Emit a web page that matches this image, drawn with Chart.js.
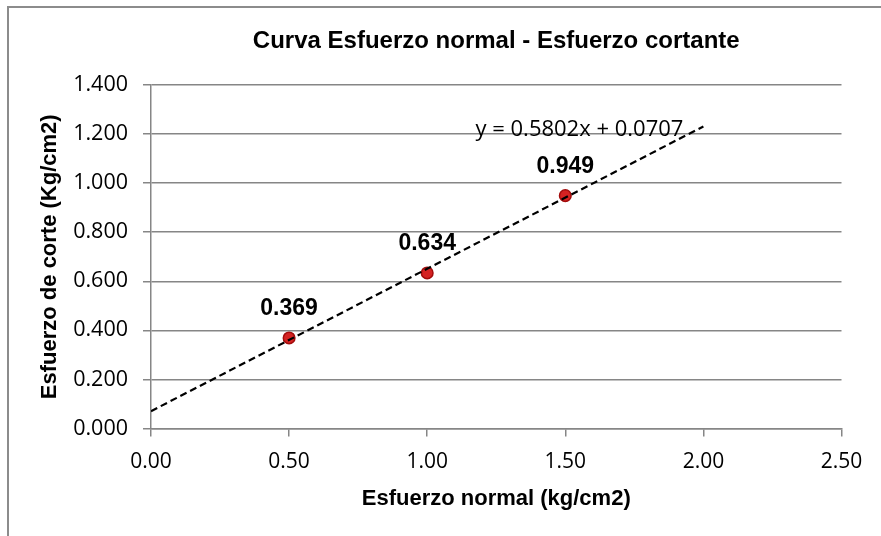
<!DOCTYPE html>
<html>
<head>
<meta charset="utf-8">
<script src="https://cdn.jsdelivr.net/npm/chart.js@4.4.1/dist/chart.umd.min.js"></script>
<style>
  body { margin: 0; background: #ffffff; }
  #wrap { width: 881px; height: 536px; position: relative; }
</style>
</head>
<body>
<div id="wrap"><canvas id="graphCanvas"></canvas></div>
<script>
// datos
var esfuerzoNormal = [0.5, 1.0, 1.5];
var esfuerzoCorte = [0.369, 0.634, 0.949];
var tendenciaX = [0.0, 2.0];
var tendenciaY = [0.0707, 1.2311];
var ecuacion = 'y = 0.5802x + 0.0707';
var xTicks = [0, 0.5, 1.0, 1.5, 2.0, 2.5];
var yTicks = [0, 0.2, 0.4, 0.6, 0.8, 1.0, 1.2, 1.4];

var gris = '#868686';

function toPoints(xs, ys) {
    var pts = [];
    for (var i in xs) {
        pts.push({ x: xs[i], y: ys[i] });
    }
    return pts;
}

// marco exterior del grafico
var marco = {
    id: 'marco',
    beforeDraw: function (chart) {
        var ctx = chart.ctx;
        ctx.save();
        ctx.fillStyle = '#ffffff';
        ctx.fillRect(0, 0, chart.width, chart.height);
        ctx.strokeStyle = '#8c8c8c';
        ctx.lineWidth = 2;
        ctx.strokeRect(8, 7, chart.width + 20, chart.height + 20);
        ctx.restore();
    }
};

// etiquetas de valores y ecuacion de la recta
var etiquetas = {
    id: 'etiquetas',
    afterDatasetsDraw: function (chart) {
        var ctx = chart.ctx;
        var meta = chart.getDatasetMeta(1);
        ctx.save();
        ctx.fillStyle = '#000000';
        ctx.font = 'bold 23px "Liberation Sans", Arial, sans-serif';
        ctx.textAlign = 'center';
        ctx.textBaseline = 'middle';
        meta.data.forEach(function (el, i) {
            ctx.fillText(esfuerzoCorte[i].toFixed(3), el.x, el.y - 29);
        });
        var xs = chart.scales.x, ys = chart.scales.y;
        ctx.font = '22px "Open Sans", sans-serif';
        ctx.textAlign = 'right';
        ctx.fillText(ecuacion, xs.getPixelForValue(tendenciaX[1]) - 20, ys.getPixelForValue(tendenciaY[1]) + 3);
        ctx.restore();
    }
};

var chartdata = {
    datasets: [{
        label: 'Lineal',
        data: toPoints(tendenciaX, tendenciaY),
        showLine: true,
        borderColor: '#000000',
        borderWidth: 2.2,
        borderDash: [7, 4],
        pointRadius: 0,
        fill: false
    }, {
        label: 'Esfuerzo de corte',
        data: toPoints(esfuerzoNormal, esfuerzoCorte),
        backgroundColor: '#d42222',
        borderColor: '#a30c0c',
        borderWidth: 1.5,
        pointStyle: 'circle',
        pointRadius: 5.8
    }]
};

var graphTarget = document.getElementById('graphCanvas');

var grafico = new Chart(graphTarget, {
    type: 'scatter',
    data: chartdata,
    plugins: [marco, etiquetas],
    options: {
        responsive: true,
        maintainAspectRatio: false,
        animation: false,
        layout: {
            padding: { left: 10, top: 0, right: 39.5, bottom: 0 }
        },
        plugins: {
            legend: { display: false },
            tooltip: { enabled: false },
            title: {
                display: true,
                fullSize: false,
                text: 'Curva Esfuerzo normal - Esfuerzo cortante',
                color: '#000000',
                font: { family: '"Liberation Sans", Arial, sans-serif', size: 24, weight: 'bold', lineHeight: 1.2 },
                padding: { top: 27.3, bottom: 28.9 }
            }
        },
        scales: {
            x: {
                type: 'linear',
                min: 0,
                max: 2.5,
                afterFit: function (scale) { scale.height = 107.5; },
                afterBuildTicks: function (scale) {
                    scale.ticks = xTicks.map(function (v) { return { value: v }; });
                },
                border: { display: true, color: gris, width: 1.5 },
                grid: { drawOnChartArea: false, drawTicks: true, tickLength: 8, color: gris, lineWidth: 1.5 },
                ticks: {
                    color: '#000000',
                    padding: 13,
                    maxRotation: 0,
                    font: { family: '"Open Sans", sans-serif', size: 21 },
                    callback: function (v) { return Number(v).toFixed(2); }
                },
                title: {
                    display: true,
                    text: 'Esfuerzo normal (kg/cm2)',
                    color: '#000000',
                    font: { family: '"Liberation Sans", Arial, sans-serif', size: 22, weight: 'bold', lineHeight: 1.2 },
                    padding: { top: 0, bottom: 23.8 }
                }
            },
            y: {
                type: 'linear',
                min: 0,
                max: 1.4,
                afterFit: function (scale) { scale.width = 141; },
                afterBuildTicks: function (scale) {
                    scale.ticks = yTicks.map(function (v) { return { value: v }; });
                },
                border: { display: true, color: gris, width: 1.5 },
                grid: { drawOnChartArea: true, drawTicks: true, tickLength: 8, color: gris, lineWidth: 1.5 },
                ticks: {
                    color: '#000000',
                    padding: 15,
                    font: { family: '"Open Sans", sans-serif', size: 21.5 },
                    callback: function (v) { return Number(v).toFixed(3); }
                },
                title: {
                    display: true,
                    text: 'Esfuerzo de corte (Kg/cm2)',
                    color: '#000000',
                    font: { family: '"Liberation Sans", Arial, sans-serif', size: 22, weight: 'bold', lineHeight: 1.2 },
                    padding: { top: 26.8, bottom: 0 }
                }
            }
        }
    }
});
</script>
</body>
</html>
